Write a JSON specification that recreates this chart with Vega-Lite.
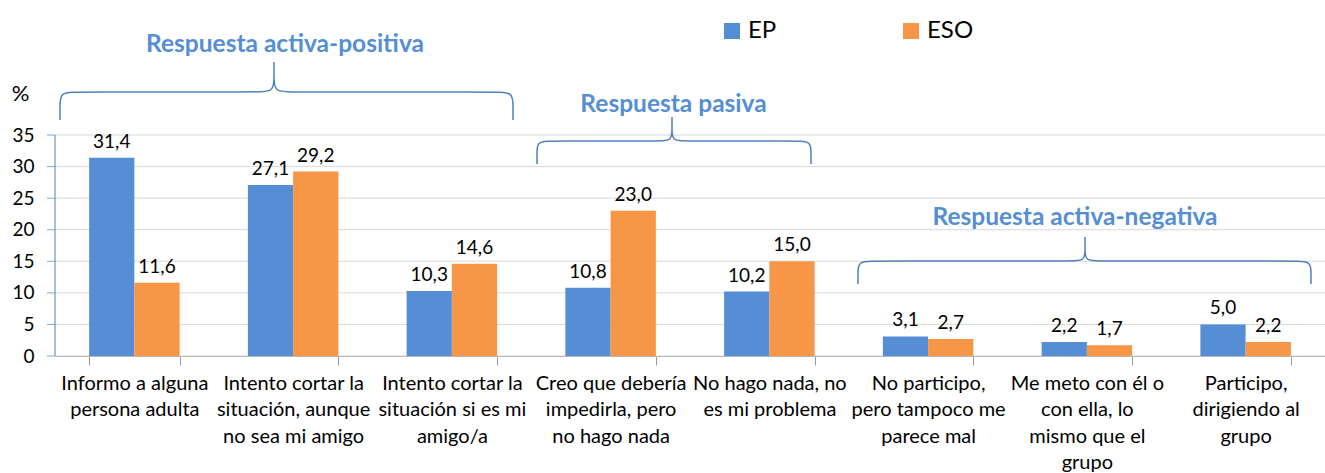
{
  "$schema": "https://vega.github.io/schema/vega-lite/v6.json",
  "width": 1270,
  "height": 221,
  "autosize": {"type": "none"},
  "padding": {"left": 55, "top": 135, "right": 0, "bottom": 117},
  "background": "white",
  "config": {
    "view": {"stroke": null},
    "font": "Lato",
    "locale": {"number": {"decimal": ",", "thousands": ".", "grouping": [3], "currency": ["", " €"]}}
  },
  "datasets": {
    "barras": [
      {"respuesta": "Informo a alguna persona adulta", "nivel": "EP", "valor": 31.4},
      {"respuesta": "Informo a alguna persona adulta", "nivel": "ESO", "valor": 11.6},
      {"respuesta": "Intento cortar la situación, aunque no sea mi amigo", "nivel": "EP", "valor": 27.1},
      {"respuesta": "Intento cortar la situación, aunque no sea mi amigo", "nivel": "ESO", "valor": 29.2},
      {"respuesta": "Intento cortar la situación si es mi amigo/a", "nivel": "EP", "valor": 10.3},
      {"respuesta": "Intento cortar la situación si es mi amigo/a", "nivel": "ESO", "valor": 14.6},
      {"respuesta": "Creo que debería impedirla, pero no hago nada", "nivel": "EP", "valor": 10.8},
      {"respuesta": "Creo que debería impedirla, pero no hago nada", "nivel": "ESO", "valor": 23.0},
      {"respuesta": "No hago nada, no es mi problema", "nivel": "EP", "valor": 10.2},
      {"respuesta": "No hago nada, no es mi problema", "nivel": "ESO", "valor": 15.0},
      {"respuesta": "No participo, pero tampoco me parece mal", "nivel": "EP", "valor": 3.1},
      {"respuesta": "No participo, pero tampoco me parece mal", "nivel": "ESO", "valor": 2.7},
      {"respuesta": "Me meto con él o con ella, lo mismo que el grupo", "nivel": "EP", "valor": 2.2},
      {"respuesta": "Me meto con él o con ella, lo mismo que el grupo", "nivel": "ESO", "valor": 1.7},
      {"respuesta": "Participo, dirigiendo al grupo", "nivel": "EP", "valor": 5.0},
      {"respuesta": "Participo, dirigiendo al grupo", "nivel": "ESO", "valor": 2.2}
    ],
    "rejilla": [
      {"valor": 0, "pos": -0.0252},
      {"valor": 5, "pos": -0.0252},
      {"valor": 10, "pos": -0.0252},
      {"valor": 15, "pos": -0.0252},
      {"valor": 20, "pos": -0.0252},
      {"valor": 25, "pos": -0.0252},
      {"valor": 30, "pos": -0.0252},
      {"valor": 35, "pos": -0.0252}
    ],
    "eje": [
      {"valor": 0, "tope": 35, "pos": 0}
    ],
    "llaves": [
      {"grupo": "activa-positiva", "orden": 1, "pos": 0.0315, "valor": 37.38},
      {"grupo": "activa-positiva", "orden": 2, "pos": 0.0315, "valor": 39.59},
      {"grupo": "activa-positiva", "orden": 3, "pos": 0.0315, "valor": 41.81},
      {"grupo": "activa-positiva", "orden": 4, "pos": 0.1449, "valor": 41.81},
      {"grupo": "activa-positiva", "orden": 5, "pos": 1.2661, "valor": 41.81},
      {"grupo": "activa-positiva", "orden": 6, "pos": 1.3795, "valor": 41.81},
      {"grupo": "activa-positiva", "orden": 7, "pos": 1.3795, "valor": 44.19},
      {"grupo": "activa-positiva", "orden": 8, "pos": 1.3795, "valor": 46.56},
      {"grupo": "activa-positiva", "orden": 9, "pos": 1.3795, "valor": 46.56},
      {"grupo": "activa-positiva", "orden": 10, "pos": 1.3795, "valor": 46.56},
      {"grupo": "activa-positiva", "orden": 11, "pos": 1.3795, "valor": 44.19},
      {"grupo": "activa-positiva", "orden": 12, "pos": 1.3795, "valor": 41.81},
      {"grupo": "activa-positiva", "orden": 13, "pos": 1.4929, "valor": 41.81},
      {"grupo": "activa-positiva", "orden": 14, "pos": 2.7717, "valor": 41.81},
      {"grupo": "activa-positiva", "orden": 15, "pos": 2.885, "valor": 41.81},
      {"grupo": "activa-positiva", "orden": 16, "pos": 2.885, "valor": 39.59},
      {"grupo": "activa-positiva", "orden": 17, "pos": 2.885, "valor": 37.38},
      {"grupo": "pasiva", "orden": 1, "pos": 3.0362, "valor": 30.41},
      {"grupo": "pasiva", "orden": 2, "pos": 3.0362, "valor": 32.23},
      {"grupo": "pasiva", "orden": 3, "pos": 3.0362, "valor": 34.05},
      {"grupo": "pasiva", "orden": 4, "pos": 3.1433, "valor": 34.05},
      {"grupo": "pasiva", "orden": 5, "pos": 3.7921, "valor": 34.05},
      {"grupo": "pasiva", "orden": 6, "pos": 3.8866, "valor": 34.05},
      {"grupo": "pasiva", "orden": 7, "pos": 3.8866, "valor": 35.95},
      {"grupo": "pasiva", "orden": 8, "pos": 3.8866, "valor": 37.85},
      {"grupo": "pasiva", "orden": 9, "pos": 3.8866, "valor": 37.85},
      {"grupo": "pasiva", "orden": 10, "pos": 3.8866, "valor": 37.85},
      {"grupo": "pasiva", "orden": 11, "pos": 3.8866, "valor": 35.95},
      {"grupo": "pasiva", "orden": 12, "pos": 3.8866, "valor": 34.05},
      {"grupo": "pasiva", "orden": 13, "pos": 3.9811, "valor": 34.05},
      {"grupo": "pasiva", "orden": 14, "pos": 4.6551, "valor": 34.05},
      {"grupo": "pasiva", "orden": 15, "pos": 4.7622, "valor": 34.05},
      {"grupo": "pasiva", "orden": 16, "pos": 4.7622, "valor": 32.23},
      {"grupo": "pasiva", "orden": 17, "pos": 4.7622, "valor": 30.41},
      {"grupo": "activa-negativa", "orden": 1, "pos": 5.0583, "valor": 11.4},
      {"grupo": "activa-negativa", "orden": 2, "pos": 5.0583, "valor": 13.22},
      {"grupo": "activa-negativa", "orden": 3, "pos": 5.0583, "valor": 15.05},
      {"grupo": "activa-negativa", "orden": 4, "pos": 5.178, "valor": 15.05},
      {"grupo": "activa-negativa", "orden": 5, "pos": 6.4, "valor": 15.05},
      {"grupo": "activa-negativa", "orden": 6, "pos": 6.4882, "valor": 15.05},
      {"grupo": "activa-negativa", "orden": 7, "pos": 6.4882, "valor": 16.95},
      {"grupo": "activa-negativa", "orden": 8, "pos": 6.4882, "valor": 18.85},
      {"grupo": "activa-negativa", "orden": 9, "pos": 6.4882, "valor": 18.85},
      {"grupo": "activa-negativa", "orden": 10, "pos": 6.4882, "valor": 18.85},
      {"grupo": "activa-negativa", "orden": 11, "pos": 6.4882, "valor": 16.95},
      {"grupo": "activa-negativa", "orden": 12, "pos": 6.4882, "valor": 15.05},
      {"grupo": "activa-negativa", "orden": 13, "pos": 6.5764, "valor": 15.05},
      {"grupo": "activa-negativa", "orden": 14, "pos": 7.7921, "valor": 15.05},
      {"grupo": "activa-negativa", "orden": 15, "pos": 7.9118, "valor": 15.05},
      {"grupo": "activa-negativa", "orden": 16, "pos": 7.9118, "valor": 13.22},
      {"grupo": "activa-negativa", "orden": 17, "pos": 7.9118, "valor": 11.4}
    ],
    "titulos": [
      {"titulo": "Respuesta activa-positiva", "pos": 1.4488, "valor": 49.25},
      {"titulo": "Respuesta pasiva", "pos": 3.8961, "valor": 39.75},
      {"titulo": "Respuesta activa-negativa", "pos": 6.4252, "valor": 21.79}
    ]
  },
  "encoding": {
    "y": {
      "field": "valor",
      "type": "quantitative",
      "scale": {"domain": [0, 35], "nice": false},
      "axis": {
        "values": [0, 5, 10, 15, 20, 25, 30, 35],
        "format": "d",
        "domain": false,
        "ticks": false,
        "grid": false,
        "labelFontSize": 19,
        "labelColor": "#000000",
        "labelPadding": 21,
        "title": "%",
        "titleAngle": 0,
        "titleX": -35,
        "titleY": -42,
        "titleFontSize": 22,
        "titleFontWeight": "normal",
        "titleAlign": "center",
        "titleBaseline": "middle",
        "titleColor": "#000000"
      }
    }
  },
  "layer": [
    {
      "data": {"name": "rejilla"},
      "mark": {"type": "rule", "color": "#D9D9D9", "strokeWidth": 1},
      "encoding": {}
    },
    {
      "data": {"name": "barras"},
      "mark": {"type": "bar"},
      "encoding": {
        "x": {
          "field": "respuesta",
          "type": "nominal",
          "sort": null,
          "scale": {"paddingInner": 0.43, "paddingOuter": 0.215},
          "axis": {
            "title": null,
            "labelAngle": 0,
            "labelFontSize": 20,
            "labelColor": "#000000",
            "labelLineHeight": 26.5,
            "labelPadding": 8,
            "labelLimit": 0,
            "tickBand": "extent",
            "tickSize": 9,
            "tickColor": "#999999",
            "domainColor": "#999999",
            "labelExpr": "{'Informo a alguna persona adulta': ['Informo a alguna','persona adulta'], 'Intento cortar la situación, aunque no sea mi amigo': ['Intento cortar la','situación, aunque','no sea mi amigo'], 'Intento cortar la situación si es mi amigo/a': ['Intento cortar la','situación si es mi','amigo/a'], 'Creo que debería impedirla, pero no hago nada': ['Creo que debería','impedirla, pero','no hago nada'], 'No hago nada, no es mi problema': ['No hago nada, no','es mi problema'], 'No participo, pero tampoco me parece mal': ['No participo,','pero tampoco me','parece mal'], 'Me meto con él o con ella, lo mismo que el grupo': ['Me meto con él o','con ella, lo','mismo que el','grupo'], 'Participo, dirigiendo al grupo': ['Participo,','dirigiendo al','grupo']}[datum.label]"
          }
        },
        "xOffset": {"field": "nivel", "type": "nominal", "sort": ["EP", "ESO"]},
        "color": {
          "field": "nivel",
          "type": "nominal",
          "scale": {"domain": ["EP", "ESO"], "range": ["#558ED5", "#F79646"]},
          "legend": {
            "orient": "none",
            "legendX": 665,
            "legendY": -116,
            "direction": "horizontal",
            "title": null,
            "padding": 0,
            "symbolType": "square",
            "symbolSize": 256,
            "symbolStrokeWidth": 0,
            "symbolOpacity": 1,
            "labelFontSize": 24,
            "labelColor": "#000000",
            "labelOffset": 4,
            "columnPadding": 122
          }
        }
      }
    },
    {
      "data": {"name": "barras"},
      "mark": {"type": "text", "dy": -16, "baseline": "middle", "fontSize": 19, "color": "#000000"},
      "encoding": {
        "x": {"field": "respuesta", "type": "nominal", "sort": null},
        "xOffset": {"field": "nivel", "type": "nominal", "sort": ["EP", "ESO"]},
        "text": {"field": "valor", "type": "quantitative", "format": ".1f"}
      }
    },
    {
      "data": {"name": "eje"},
      "mark": {"type": "rule", "color": "#4F81BD", "strokeWidth": 1},
      "encoding": {
        "x": {"datum": "Informo a alguna persona adulta", "type": "nominal"},
        "xOffset": {"field": "pos", "type": "quantitative", "scale": {"domain": [0.215, 0.785], "nice": false, "zero": false}},
        "y2": {"field": "tope"}
      }
    },
    {
      "data": {"name": "rejilla"},
      "mark": {"type": "tick", "orient": "horizontal", "color": "#4F81BD", "size": 8, "thickness": 1},
      "encoding": {
        "x": {"datum": "Informo a alguna persona adulta", "type": "nominal"},
        "xOffset": {"field": "pos", "type": "quantitative", "scale": {"domain": [0.215, 0.785], "nice": false, "zero": false}}
      }
    },
    {
      "data": {"name": "llaves"},
      "mark": {"type": "line", "interpolate": "basis", "color": "#4F81BD", "strokeWidth": 1.5},
      "encoding": {
        "x": {"datum": "Informo a alguna persona adulta", "type": "nominal"},
        "xOffset": {"field": "pos", "type": "quantitative", "scale": {"domain": [0.215, 0.785], "nice": false, "zero": false}},
        "detail": {"field": "grupo"},
        "order": {"field": "orden"}
      }
    },
    {
      "data": {"name": "titulos"},
      "mark": {"type": "text", "fontWeight": "bold", "fontSize": 24.5, "color": "#558ED5", "align": "center", "baseline": "middle"},
      "encoding": {
        "x": {"datum": "Informo a alguna persona adulta", "type": "nominal"},
        "xOffset": {"field": "pos", "type": "quantitative", "scale": {"domain": [0.215, 0.785], "nice": false, "zero": false}},
        "text": {"field": "titulo"}
      }
    }
  ],
  "resolve": {"scale": {"xOffset": "independent"}}
}
